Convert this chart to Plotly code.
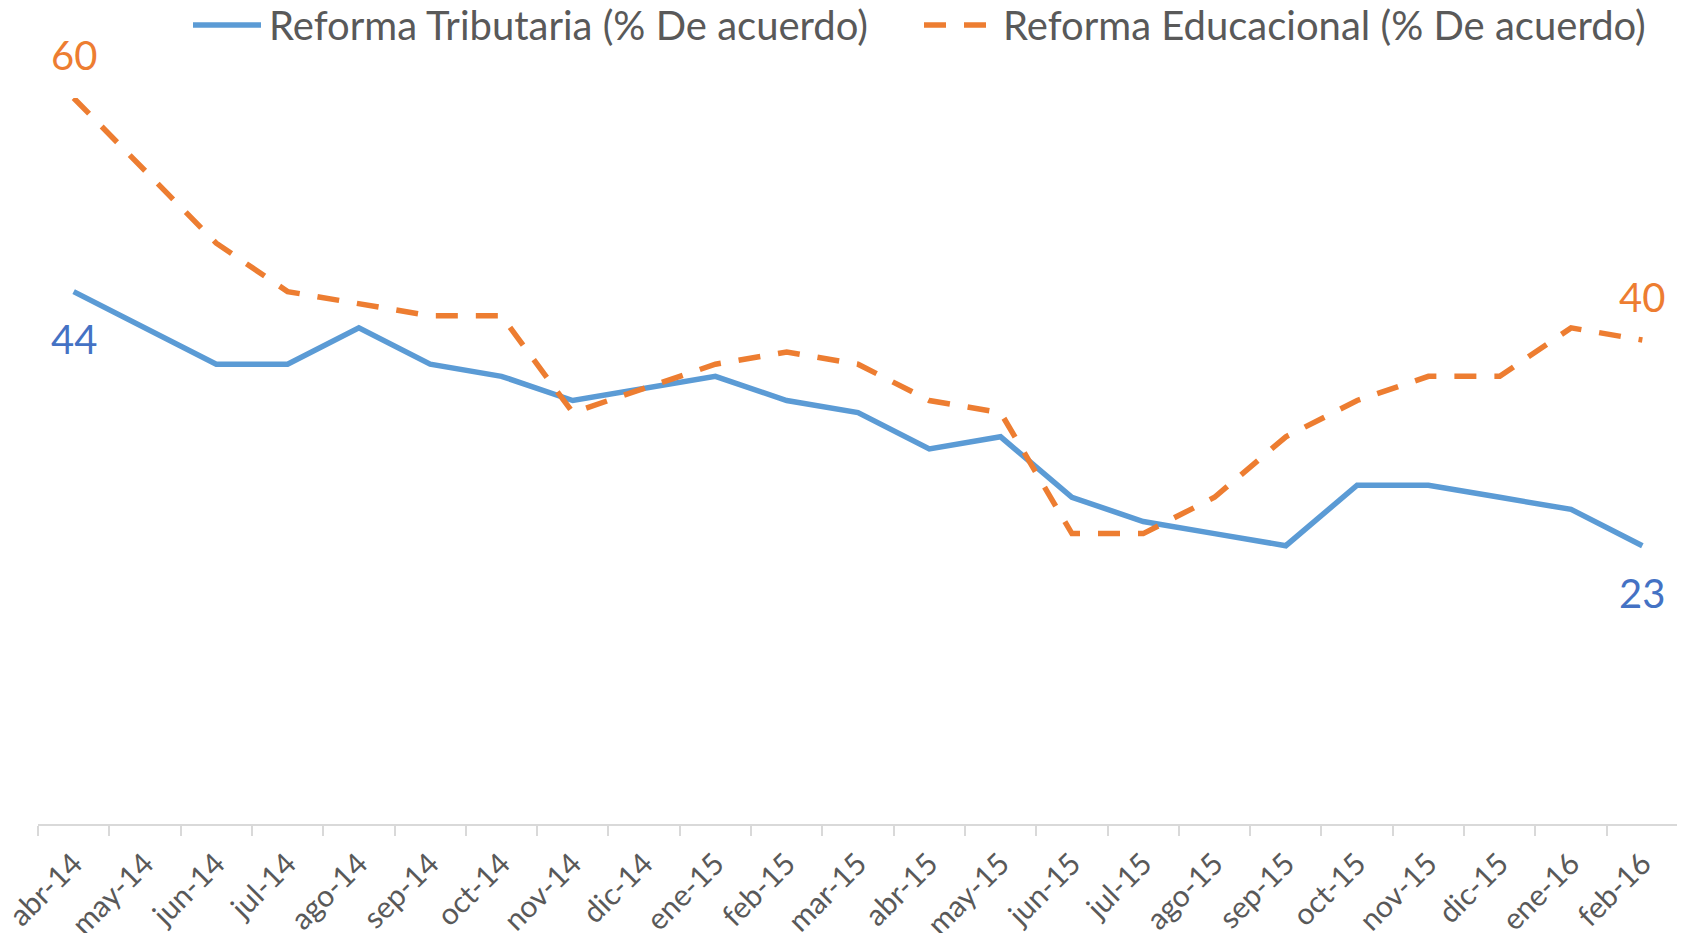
import plotly.graph_objects as go

months = ["abr-14", "may-14", "jun-14", "jul-14", "ago-14", "sep-14", "oct-14", "nov-14",
          "dic-14", "ene-15", "feb-15", "mar-15", "abr-15", "may-15", "jun-15", "jul-15",
          "ago-15", "sep-15", "oct-15", "nov-15", "dic-15", "ene-16", "feb-16"]
tributaria = [44, 41, 38, 38, 41, 38, 37, 35, 36, 37, 35, 34, 31, 32, 27, 25, 24, 23, 28, 28, 27, 26, 23]
educacional = [60, 54, 48, 44, 43, 42, 42, 34, 36, 38, 39, 38, 35, 34, 24, 24, 27, 32, 35, 37, 37, 41, 40]
name_trib = "Reforma Tributaria (% De acuerdo)"
name_edu = "Reforma Educacional (% De acuerdo)"

BLUE = "#5B9BD5"
ORANGE = "#ED7D31"
LABEL_BLUE = "#4472C4"
GREY = "#595959"
FONT = "Lato, Open Sans, sans-serif"
DASH = "22px,18px"
LW = 5.5

L, R, T, B = 30, 15, 90, 117
W, H = 1685, 933
PW = W - L - R
PH = H - T - B

fig = go.Figure()
fig.add_trace(go.Scatter(x=months, y=tributaria, mode="lines", name=name_trib,
                         line=dict(color=BLUE, width=LW), showlegend=False))
fig.add_trace(go.Scatter(x=months, y=educacional, mode="lines", name=name_edu,
                         line=dict(color=ORANGE, width=LW, dash=DASH), showlegend=False))

# end-point data labels
for series, color, above in [(tributaria, LABEL_BLUE, False), (educacional, ORANGE, True)]:
    for idx in (0, len(months) - 1):
        fig.add_annotation(x=months[idx], y=series[idx], text=str(series[idx]),
                           showarrow=False, yshift=43 if above else -47,
                           font=dict(family=FONT, size=40, color=color))

# manual legend (positions in figure pixels converted to paper units)
def px(x):
    return (x - L) / PW

LY = 1 + (T - 17) / PH
fig.add_shape(type="line", xref="paper", yref="paper", x0=px(185), x1=px(253),
              y0=LY, y1=LY, line=dict(color=BLUE, width=LW))
fig.add_shape(type="line", xref="paper", yref="paper", x0=px(916), x1=px(978),
              y0=LY, y1=LY, line=dict(color=ORANGE, width=LW, dash=DASH))
fig.add_annotation(xref="paper", yref="paper", x=px(259), y=LY, xanchor="left",
                   yanchor="middle", text=name_trib, showarrow=False,
                   font=dict(family=FONT, size=40, color=GREY))
fig.add_annotation(xref="paper", yref="paper", x=px(993), y=LY, xanchor="left",
                   yanchor="middle", text=name_edu, showarrow=False,
                   font=dict(family=FONT, size=40, color=GREY))

fig.update_layout(
    width=W, height=H,
    margin=dict(l=L, r=R, t=T, b=B, autoexpand=False),
    plot_bgcolor="white", paper_bgcolor="white",
    font=dict(family=FONT, color=GREY),
    xaxis=dict(type="category", range=[-0.5, len(months) - 0.5], tickangle=-45,
               tickson="boundaries", ticks="outside", ticklabelstandoff=8,
               ticklen=10, tickcolor="#D9D9D9", tickwidth=2, automargin=False,
               showline=True, linecolor="#D9D9D9", linewidth=2,
               showgrid=False, tickfont=dict(family=FONT, size=30, color=GREY)),
    yaxis=dict(range=[0, 60], visible=False, showgrid=False, zeroline=False, automargin=False),
)

fig.write_html("out.html")
